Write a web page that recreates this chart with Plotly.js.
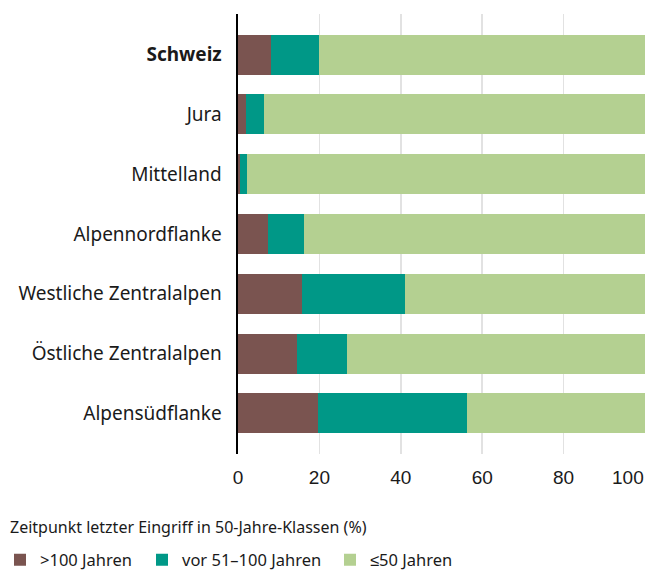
<!DOCTYPE html>
<html>
<head>
<meta charset="utf-8">
<script src="https://cdn.plot.ly/plotly-3.0.1.min.js"></script>
<style>html,body{margin:0;padding:0;background:#fff;}#chart{width:647px;height:571px;}</style>
</head>
<body>
<div id="chart"></div>
<script>
const regions = ["Schweiz", "Jura", "Mittelland", "Alpennordflanke", "Westliche Zentralalpen", "Östliche Zentralalpen", "Alpensüdflanke"];
const regionLabels = ["<b>Schweiz</b>", "Jura", "Mittelland", "Alpennordflanke", "Westliche Zentralalpen", "Östliche Zentralalpen", "Alpensüdflanke"];
const over100 = [8.2, 2.0, 0.5, 7.3, 15.8, 14.6, 19.7];
const from51to100 = [11.8, 4.5, 1.6, 8.8, 25.3, 12.3, 36.6];
const upTo50 = [80.0, 93.5, 97.9, 83.9, 58.9, 73.1, 43.7];
const seriesNames = [">100 Jahren", "vor 51–100 Jahren", "≤50 Jahren"];
const xTicks = [0, 20, 40, 60, 80, 100];
const xTickText = ["0", "20", "40", "60", "80", "100"];
const legendTitle = "Zeitpunkt letzter Eingriff in 50-Jahre-Klassen (%)";

const colors = ["#7a5450", "#009887", "#b4d091"];
const labelFont = "Noto Sans, sans-serif";
const tickFont = {family: "Liberation Sans, Arial, sans-serif", size: 19, color: "#1a1a1a"};
const seriesData = [over100, from51to100, upTo50];
const legendNames = ["legend", "legend2", "legend3"];

const traces = seriesData.map((vals, i) => ({
  type: "bar",
  orientation: "h",
  y: regions,
  x: vals,
  name: seriesNames[i],
  marker: {color: colors[i], line: {width: 0}},
  width: 0.67,
  legend: legendNames[i],
  hoverinfo: "x+name"
}));

function legendAt(px) {
  return {
    orientation: "h",
    xref: "container", yref: "container",
    x: px / 647, xanchor: "left",
    y: (571 - 560) / 571, yanchor: "middle",
    font: {family: labelFont, size: 16.5, color: "#1a1a1a"},
    bgcolor: "rgba(0,0,0,0)", borderwidth: 0,
    itemclick: false, itemdoubleclick: false
  };
}

// last tick label is drawn right-aligned to its tick (as in the reference)
const lastIdx = xTicks.length - 1;
const axisTickText = xTickText.map((t, i) => (i === lastIdx ? "" : t));

const layout = {
  width: 647, height: 571,
  margin: {l: 238, r: 2, t: 14, b: 117},
  paper_bgcolor: "#fff", plot_bgcolor: "#fff",
  barmode: "stack",
  bargap: 0.33,
  showlegend: true,
  legend: legendAt(-24),
  legend2: legendAt(142),
  legend3: legendAt(330),
  xaxis: {
    range: [0, 100],
    tickvals: xTicks,
    ticktext: axisTickText,
    showgrid: true, gridcolor: "#e2e2e2", gridwidth: 1.5,
    zeroline: false, showline: false, ticks: "",
    ticklabelstandoff: 10,
    ticklabeloverflow: "allow",
    automargin: false,
    tickfont: tickFont,
    fixedrange: true
  },
  yaxis: {
    type: "category",
    categoryorder: "array",
    categoryarray: regions,
    tickvals: regions,
    ticktext: regionLabels,
    range: [6.68, -0.68],
    showline: true, linecolor: "#000", linewidth: 2.5,
    showgrid: false, zeroline: false, ticks: "",
    ticklabelstandoff: 10,
    automargin: false,
    tickfont: {family: labelFont, size: 19, color: "#1a1a1a"},
    fixedrange: true
  },
  annotations: [{
    xref: "paper", yref: "paper",
    x: (8 - 238) / 407, xanchor: "left",
    y: (454 - 527) / 440, yanchor: "middle",
    text: legendTitle, showarrow: false,
    font: {family: labelFont, size: 16, color: "#1a1a1a"}
  }, {
    xref: "x", yref: "paper",
    x: xTicks[lastIdx], xanchor: "right",
    y: (454 - 477) / 440, yanchor: "middle",
    text: xTickText[lastIdx], showarrow: false,
    borderpad: 0,
    font: tickFont
  }]
};

Plotly.newPlot("chart", traces, layout, {displayModeBar: false, staticPlot: true});
</script>
</body>
</html>
